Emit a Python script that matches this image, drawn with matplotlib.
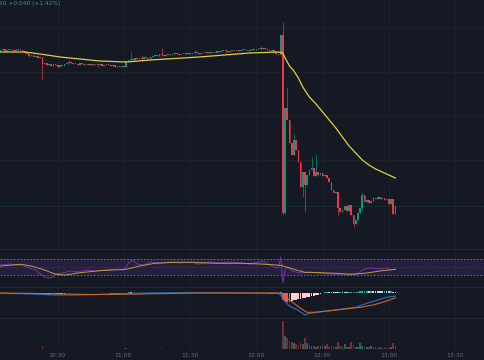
import matplotlib
matplotlib.use("Agg")
import matplotlib.pyplot as plt
from matplotlib.lines import Line2D
import numpy as np

# 1-minute candles, first one at 10:04
start_minute = 10 * 60 + 4
first_open = 3.49
closes = [
    3.50, 3.51, 3.49, 3.50, 3.51, 3.50, 3.49, 3.50, 3.51, 3.50,
    3.49, 3.47, 3.46, 3.44,
    3.45, 3.43, 3.44, 3.42, 3.43,
    3.36,
    3.37, 3.35, 3.36, 3.34, 3.36, 3.35, 3.33, 3.35, 3.34, 3.36,
    3.37, 3.38, 3.37, 3.36,
    3.36, 3.35, 3.37, 3.36, 3.35, 3.36, 3.35, 3.36, 3.35,
    3.36, 3.35, 3.36, 3.34, 3.35, 3.36, 3.35,
    3.34, 3.35, 3.33, 3.34, 3.33, 3.34, 3.33,
    3.39,
    3.40, 3.41, 3.40, 3.42, 3.41,
    3.42, 3.41, 3.43, 3.42, 3.41,
    3.43, 3.44, 3.45, 3.44, 3.46, 3.45, 3.44,
    3.45, 3.46, 3.45, 3.46, 3.47, 3.46, 3.45,
    3.46, 3.47, 3.46, 3.47, 3.46, 3.47, 3.48, 3.47, 3.46,
    3.47, 3.48, 3.47, 3.48, 3.47, 3.48, 3.47,
    3.49, 3.48, 3.49, 3.50, 3.49, 3.48, 3.49, 3.50, 3.49,
    3.50, 3.49, 3.50, 3.51, 3.50, 3.49, 3.50, 3.51, 3.50,
    3.51, 3.52, 3.51, 3.52, 3.51,
    3.50, 3.49, 3.50, 3.48,
    3.46, 3.45,
    3.65, 1.87, 2.92, 2.80,
    2.57, 2.45, 2.60, 2.50, 2.38, 2.13, 2.28, 2.15, 2.25, 2.30,
    2.32, 2.24, 2.28, 2.25, 2.27, 2.24, 2.25, 2.22, 2.18, 2.10,
    2.07, 2.08, 1.92, 1.88, 1.90, 1.94, 1.89, 1.95, 1.85, 1.76,
    1.80, 1.87, 1.92, 2.05, 1.98, 2.00, 1.97, 1.99, 2.02, 2.01,
    2.03, 2.01, 2.02, 2.00, 2.01, 1.96, 2.01, 1.86, 1.94,
]
# (high, low) where the wick goes past the body
wicks = {
    13: (3.47, 3.43), 19: (3.43, 3.20), 31: (3.40, 3.36), 44: (3.37, 3.33),
    59: (3.48, 3.40), 64: (3.45, 3.40), 73: (3.52, 3.44), 88: (3.50, 3.46),
    102: (3.51, 3.47), 118: (3.54, 3.50),
    127: (3.66, 3.45), 128: (3.78, 1.85), 129: (2.92, 1.86), 130: (3.13, 2.80),
    133: (2.66, 2.45), 137: (2.28, 2.03), 138: (2.28, 1.88), 141: (2.43, 2.30),
    143: (2.45, 2.24), 153: (2.08, 1.85), 160: (1.85, 1.73), 164: (2.07, 1.90),
}
volumes = [
    6, 4, 5, 3, 4, 5, 3, 4, 6, 5,
    5, 6, 4, 5, 7, 5, 4, 6, 5, 33,
    8, 6, 5, 4, 5, 6, 4, 5, 3, 4,
    7, 6, 5, 4, 3, 4, 5, 3, 4, 3,
    4, 3, 5, 4, 3, 4, 3, 5, 4, 3,
    4, 3, 4, 5, 3, 4, 3, 12, 8, 6,
    5, 4, 3, 4, 5, 3, 4, 3, 4, 5,
    4, 3, 6, 12, 5, 4, 3, 4, 3, 4,
    3, 4, 3, 4, 3, 4, 3, 4, 3, 4,
    3, 4, 3, 4, 3, 4, 3, 4, 3, 4,
    4, 3, 4, 3, 4, 3, 5, 4, 3, 4,
    3, 4, 3, 4, 3, 4, 5, 4, 3, 4,
    4, 5, 4, 6, 5, 8, 7,
    5, 285, 130, 110, 86, 76, 60, 53, 43, 60,
    50, 110, 60, 40, 35, 38, 28, 35, 30, 40,
    30, 50, 28, 32, 25, 20, 73, 30, 22, 53,
    28, 25, 70, 40, 25, 20, 67, 35, 25, 20,
    22, 37, 25, 20, 18, 22, 15, 20, 18, 15,
    20, 60, 30,
]
# MACD histogram, thousandths
macd_hist = [
    1, 2, 1, 0, -1, 1, 2, 1, -1, -2,
    -3, -4, -5, -6, -5, -7, -8, -6, -5, -12,
    -15, -14, -12, -10, -9, -8, -6, -5, -4, -3,
    2, 4, 5, 4, 3, 2, 1, 1, 0, -1,
    -1, 1, 2, 1, 0, -1, 1, 2, 1, 0,
    -2, -3, -4, -3, -2, -1, -2, 8, 10, 9,
    8, 6, 5, 4, 3, 4, 5, 4, 3, 4,
    5, 4, 3, 2, 3, 2, 1, 2, 1, 0,
    1, 2, 1, 0, -1, 1, 2, 1, 0, 1,
    2, 1, 0, 1, 2, 1, 0, -1, 1, 2,
    3, 2, 1, 2, 3, 2, 1, 0, 1, 2,
    1, 0, 1, 2, 1, 0, 1, 2, 3, 2,
    1, -1, -3, -2, -4, -6, -8,
    10, -70, -80, -82, -85, -80, -70, -62, -58, -55,
    -50, -45, -40, -36, -30, -26, -20, -15, -8, 5,
    12, 15, 14, 13, 12, 11, 10, 12, 11, 10,
    9, 10, 12, 14, 16, 18, 20, 22, 24, 25,
    24, 26, 25, 24, 23, 22, 21, 22, 20, 19,
    20, 18, 17,
]

ma_idx = [0, 11, 18, 27, 36, 45, 57, 68, 90, 113, 126, 128, 129, 131, 133, 135,
          137, 140, 143, 146, 149, 152, 155, 158, 161, 164, 167, 170, 173, 176, 179]
ma_val = [3.48, 3.48, 3.46, 3.43, 3.41, 3.39, 3.38, 3.40, 3.43, 3.47, 3.48, 3.47,
          3.42, 3.34, 3.29, 3.22, 3.13, 3.03, 2.96, 2.88, 2.80, 2.72, 2.63, 2.54,
          2.47, 2.40, 2.35, 2.31, 2.28, 2.25, 2.22]

rsi_idx = [0, 4, 7, 10, 13, 16, 18, 20, 22, 24, 25, 28, 32, 35, 39, 43, 47, 52, 56,
           58, 60, 62, 65, 68, 72, 77, 81, 86, 90, 95, 99, 104, 109, 113, 117, 119,
           121, 124, 126, 127, 128, 129, 130, 132, 136, 140, 145, 149, 154, 158,
           161, 164, 167, 172, 175, 177, 179]
rsi_val = [55, 57.5, 55, 55, 47.5, 42.5, 32.5, 25, 22.5, 25, 32.5, 35, 40, 37.5,
           42.5, 40, 42.5, 45, 42.5, 60, 67.5, 57.5, 55, 62.5, 60, 62.5, 60, 62.5,
           57.5, 62.5, 60, 62.5, 60, 57.5, 62.5, 65, 57.5, 50, 47.5, 75, 10, 42.5,
           50, 40, 35, 37.5, 35, 32.5, 32.5, 32.5, 30, 42.5, 47.5, 45, 47.5, 42.5, 45]
rsi_ma_idx = [0, 9, 14, 20, 25, 29, 36, 45, 57, 63, 70, 79, 88, 97, 109, 118, 127,
              133, 138, 145, 152, 158, 165, 172, 179]
rsi_ma_val = [52.5, 56.75, 52.5, 42.5, 31.75, 30, 35.75, 40.75, 44.25, 52.5, 59.25,
              61.75, 61.75, 59.25, 59.25, 57.5, 54.25, 44.25, 36.75, 35.75, 34.25,
              31.75, 34.25, 40, 44.25]

macd_idx = [0, 14, 25, 34, 45, 57, 68, 90, 113, 126, 127, 129, 131, 134, 137, 138,
            140, 144, 148, 154, 161, 166, 171, 175, 179]
macd_val = [0.0, -0.007, -0.017, -0.017, -0.012, -0.002, 0.004, 0.006, 0.004, 0.0,
            -0.017, -0.084, -0.127, -0.16, -0.20, -0.217, -0.20, -0.19, -0.177,
            -0.16, -0.14, -0.10, -0.067, -0.04, -0.027]
signal_idx = [0, 20, 40, 60, 90, 126, 127, 130, 133, 136, 139, 142, 148, 155, 163,
              169, 174, 179]
signal_val = [0.003, -0.003, -0.012, -0.008, 0.003, 0.003, 0.0, -0.05, -0.10, -0.15,
              -0.19, -0.19, -0.177, -0.16, -0.14, -0.117, -0.084, -0.045]

time_labels = ["10:30", "11:00", "11:30", "12:00", "12:30", "13:00", "13:30"]
legend_text = "50 +0.040 (+1.42%)"

BG = "#151924"
GRID = "#1d212c"
UP = "#089981"
DOWN = "#f23645"

n = len(closes)
x = np.arange(n)
opens = np.array([first_open] + closes[:-1])
closes_a = np.array(closes)
up = closes_a >= opens

fig = plt.figure(figsize=(4.85, 3.6), dpi=100, facecolor=BG)
H = 360.0


def pane(top, bottom):
    ax = fig.add_axes([0, (H - bottom) / H, 1, (bottom - top) / H])
    ax.set_facecolor(BG)
    ax.set_xlim(-0.22, 219.6)
    for s in ax.spines.values():
        s.set_visible(False)
    ax.set_xticks([])
    ax.set_yticks([])
    return ax


ax_main = pane(0, 249)
ax_rsi = pane(249, 287)
ax_macd = pane(287, 318)
ax_vol = pane(318, 350)

tick_pos = []
for lab in time_labels:
    h, m = lab.split(":")
    tick_pos.append(int(h) * 60 + int(m) - start_minute)

for ax in (ax_main, ax_rsi, ax_macd, ax_vol):
    for t in tick_pos:
        ax.axvline(t, color=GRID, lw=0.7, zorder=0)

# main pane
ax_main.set_ylim(1.51, 4.00)
for lvl in [3.72, 3.28, 2.84, 2.40]:
    ax_main.axhline(lvl, color=GRID, lw=0.7, zorder=0)
ax_main.axhline(closes[-1], color="#1a3d3b", lw=0.7, ls=(0, (1, 1)), zorder=0)

colors = [UP if u else DOWN for u in up]
bottoms = np.minimum(opens, closes_a)
heights = np.maximum(np.abs(closes_a - opens), 0.008)
highs = np.maximum(opens, closes_a)
lows = np.minimum(opens, closes_a)
for k, (hi, lo) in wicks.items():
    highs[k] = max(highs[k], hi)
    lows[k] = min(lows[k], lo)
ax_main.vlines(x, lows, highs, colors=colors, lw=0.6, alpha=0.75, zorder=2)
ax_main.bar(x, heights, bottom=bottoms, width=0.75, color=colors, linewidth=0, zorder=3)
ax_main.plot(ma_idx, ma_val, color="#e3cf3a", lw=0.9, zorder=4)

# RSI pane
ax_rsi.set_ylim(0, 95)
ax_rsi.fill_between([-1, 221], 30, 70, color="#7e3fc2", alpha=0.16, lw=0, zorder=1)
ax_rsi.axhline(70, color="#787b86", lw=0.6, ls=(0, (2, 2)), zorder=2)
ax_rsi.axhline(30, color="#787b86", lw=0.6, ls=(0, (2, 2)), zorder=2)
ax_rsi.axhline(50, color="#787b86", lw=0.5, ls=(0, (1, 2)), alpha=0.5, zorder=2)
ax_rsi.plot(rsi_idx, rsi_val, color="#7b2fa8", lw=0.7, zorder=3)
ax_rsi.plot(rsi_ma_idx, rsi_ma_val, color="#b9a03a", lw=0.7, zorder=4)

# MACD pane
ax_macd.set_ylim(-0.247, 0.063)
hist = np.array(macd_hist) / 1000.0
hcol = []
for k, v in enumerate(hist):
    prev = hist[k - 1] if k > 0 else 0
    if v >= 0:
        hcol.append("#26a69a" if v >= prev else "#b2dfdb")
    else:
        hcol.append("#ff5252" if v < prev else "#ffcdd2")
ax_macd.bar(x, hist, width=0.8, color=hcol, linewidth=0, zorder=2)
ax_macd.plot(macd_idx, macd_val, color="#2272c8", lw=0.8, zorder=3)
ax_macd.plot(signal_idx, signal_val, color="#d0651e", lw=0.8, zorder=3)

# volume pane
ax_vol.set_ylim(-7, 313)
vcol = ["#1b6a60" if u else "#7c2b33" for u in up]
ax_vol.bar(x, volumes, width=0.75, color=vcol, linewidth=0, zorder=2)

# pane separators
for yp in (249, 287, 318):
    fig.add_artist(Line2D([0, 1], [(H - yp) / H] * 2, color="#262a35", lw=0.8))

for lab, t in zip(time_labels, tick_pos):
    xp = (2.211 * t - 0.49) / 485.0
    fig.text(xp, (H - 355.5) / H, lab, color="#6a6d78", fontsize=4.3,
             ha="center", va="center")

fig.text(-0.002, (H - 4) / H, legend_text, color="#22a08c", fontsize=4.2,
         ha="left", va="center")

fig.savefig("out.png", dpi=100, facecolor=BG)
